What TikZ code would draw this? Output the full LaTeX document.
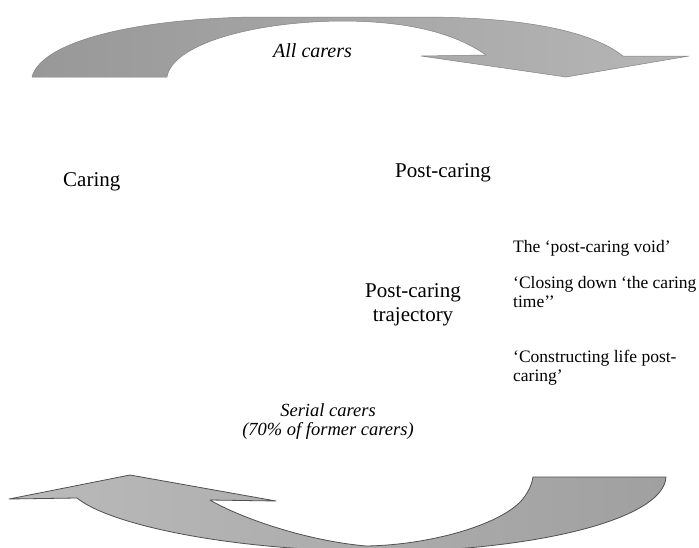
\documentclass[tikz,border=0pt]{standalone}
\usepackage{fontspec}
\setmainfont{Liberation Serif}
\definecolor{tlg}{RGB}{152,152,152}
\definecolor{trg}{RGB}{182,182,182}
\definecolor{blg}{RGB}{186,186,186}
\definecolor{brg}{RGB}{160,160,160}
\definecolor{tedge}{RGB}{130,130,130}
\definecolor{bedge}{RGB}{80,80,80}
\begin{document}
\begin{tikzpicture}[x=1pt,y=-1pt,
  bigtext/.style={font=\fontsize{21}{25}\selectfont, inner sep=0pt, anchor=base west},
  bigc/.style={font=\fontsize{21}{24}\selectfont, inner sep=0pt, anchor=base, align=center},
  smalltext/.style={font=\fontsize{17.5}{19}\selectfont, inner sep=0pt, anchor=base west, align=left},
  italtext/.style={font=\fontsize{18.5}{19}\selectfont\itshape, inner sep=0pt, anchor=base, align=center},
  toparrow/.style={left color=tlg, right color=trg, draw=tedge, line width=0.5pt, line join=round},
  botarrow/.style={left color=blg, right color=brg, draw=bedge, line width=0.8pt, line join=round}]
\useasboundingbox (0,0) rectangle (699,547);
\clip (0,0) rectangle (699,547);
\fill[white] (0,0) rectangle (699,547);
% top arrow
\path[toparrow] (32,77) -- (167,77)
  .. controls (172,45) and (250,22) .. (340,21)
  .. controls (400,21) and (450,30) .. (486,55)
  -- (421,56) -- (566,77) -- (689,56) -- (623,56)
  .. controls (590,30) and (520,17) .. (420,17)
  -- (250,17)
  .. controls (120,20) and (40,45) .. (32,77) -- cycle;
% bottom arrow
\path[botarrow] (9,499) -- (130,475) -- (276,501) -- (210,500)
  .. controls (235,515) and (300,540) .. (366,546)
  .. controls (430,545) and (500,525) .. (522,500)
  .. controls (530,490) and (532,483) .. (533,477)
  -- (666,477)
  .. controls (664,515) and (560,545) .. (420,551)
  -- (367,551)
  .. controls (230,550) and (110,525) .. (77,498)
  -- cycle;
% texts
\node[italtext, font=\fontsize{20}{22}\selectfont\itshape, anchor=base west] (all) at (273,57) {All carers};
\node[bigtext] (caring) at (63,186) {Caring};
\node[bigtext] (post) at (395,177) {Post-caring};
\node[bigc] (traj) at (413,321) {Post-caring\\trajectory};
\node[smalltext] (void) at (513,252) {The ‘post-caring void’};
\node[smalltext] (closing) at (513,307) {‘Closing down ‘the caring\\time’’};
\node[smalltext] (constr) at (513,381) {‘Constructing life post-\\caring’};
\node[italtext] (serial) at (328,435) {Serial carers\\(70\% of former carers)};
\end{tikzpicture}
\end{document}
